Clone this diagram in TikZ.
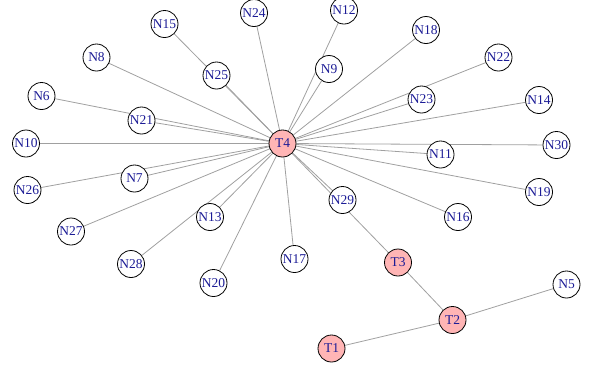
\documentclass[tikz,border=0pt]{standalone}
\usepackage{fontspec}
\setmainfont{Liberation Serif}
\usetikzlibrary{backgrounds}
\definecolor{vpink}{HTML}{FFB5B5}
\definecolor{vlabel}{HTML}{1C1C96}
\definecolor{vedge}{HTML}{A0A0A0}
\tikzset{
  vtx/.style={circle, draw=black, line width=0.8pt, fill=white, minimum size=27pt, inner sep=0pt, text=vlabel, font=\fontsize{13.5}{13.5}\selectfont},
  tvtx/.style={vtx, fill=vpink},
  edge/.style={draw=vedge, line width=0.8pt}
}
\begin{document}
\begin{tikzpicture}[x=1pt,y=-1pt]
\path[use as bounding box] (0,0) rectangle (589,368);
\node[tvtx] (T4) at (282.5,143.5) {T4};
\node[tvtx] (T3) at (398,262.5) {T3};
\node[tvtx] (T2) at (452.5,320) {T2};
\node[tvtx] (T1) at (331.5,348.5) {T1};
\node[vtx] (N24) at (254,13) {N24};
\node[vtx] (N12) at (344,10.5) {N12};
\node[vtx] (N15) at (164.5,24) {N15};
\node[vtx] (N18) at (426,30) {N18};
\node[vtx] (N8) at (96.5,57.5) {N8};
\node[vtx] (N25) at (216.5,75.5) {N25};
\node[vtx] (N9) at (329,69) {N9};
\node[vtx] (N22) at (498.5,57.5) {N22};
\node[vtx] (N6) at (41.5,96) {N6};
\node[vtx] (N23) at (421.5,99.5) {N23};
\node[vtx] (N14) at (539,100) {N14};
\node[vtx] (N21) at (141.5,120.5) {N21};
\node[vtx] (N10) at (26,143.5) {N10};
\node[vtx] (N11) at (440.5,154.5) {N11};
\node[vtx] (N30) at (556.5,145) {N30};
\node[vtx] (N7) at (134.5,178.5) {N7};
\node[vtx] (N26) at (27.5,190) {N26};
\node[vtx] (N19) at (539,192) {N19};
\node[vtx] (N29) at (342.5,200) {N29};
\node[vtx] (N16) at (458,217) {N16};
\node[vtx] (N13) at (210,217) {N13};
\node[vtx] (N27) at (71,231.5) {N27};
\node[vtx] (N28) at (131,264) {N28};
\node[vtx] (N17) at (294.5,259) {N17};
\node[vtx] (N20) at (213.5,283) {N20};
\node[vtx] (N5) at (566.5,284.5) {N5};
\begin{scope}[on background layer]
\foreach \n in {N24,N12,N15,N18,N8,N25,N9,N22,N6,N23,N14,N21,N10,N11,N30,N7,N26,N19,N29,N16,N13,N27,N28,N17,N20,T3}
  \draw[edge] (T4) -- (\n);
\draw[edge] (T3) -- (T2);
\draw[edge] (T2) -- (T1);
\draw[edge] (T2) -- (N5);
\end{scope}
\end{tikzpicture}
\end{document}
